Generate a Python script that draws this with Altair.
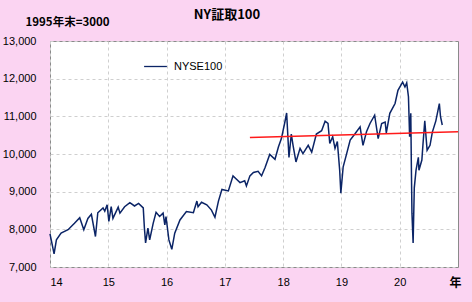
import altair as alt
import pandas as pd

# NYSE100 (1995年末=3000), x in years (14 = 2014)
years = [14.00, 14.07, 14.11, 14.19, 14.31, 14.42, 14.51, 14.58, 14.65, 14.71,
         14.78, 14.82, 14.91, 14.94, 14.98, 15.01, 15.05, 15.08, 15.17, 15.20,
         15.28, 15.37, 15.45, 15.52, 15.60, 15.62, 15.64, 15.68, 15.71, 15.77,
         15.82, 15.88, 15.94, 15.97, 15.99, 16.04, 16.09, 16.14, 16.23, 16.34,
         16.46, 16.52, 16.54, 16.60, 16.69, 16.77, 16.83, 16.89, 16.95, 17.06,
         17.14, 17.20, 17.26, 17.34, 17.37, 17.43, 17.49, 17.57, 17.63, 17.69,
         17.77, 17.86, 17.92, 17.97, 18.03, 18.06, 18.10, 18.14, 18.17, 18.22,
         18.29, 18.34, 18.43, 18.49, 18.57, 18.66, 18.72, 18.77, 18.80, 18.85,
         18.89, 18.93, 18.97, 18.99, 19.03, 19.09, 19.15, 19.23, 19.32, 19.37,
         19.43, 19.49, 19.57, 19.63, 19.69, 19.75, 19.77, 19.83, 19.92, 19.97,
         20.05, 20.09, 20.12, 20.15, 20.17, 20.19, 20.20, 20.21, 20.23, 20.25,
         20.28, 20.32, 20.33, 20.38, 20.40, 20.43, 20.47, 20.52, 20.56, 20.62,
         20.68, 20.70, 20.73]
values = [7880, 7350, 7720, 7900, 7990, 8160, 8310, 7990, 8290, 8400,
          7810, 8440, 8570, 8480, 8650, 8210, 8600, 8290, 8590, 8430,
          8600, 8710, 8620, 8690, 8570, 8030, 7640, 8030, 7720, 8160,
          8450, 8340, 8430, 8120, 8340, 7720, 7470, 7900, 8250, 8470,
          8440, 8750, 8600, 8720, 8650, 8510, 8320, 8750, 9060, 9020,
          9420, 9330, 9240, 9290, 9150, 9420, 9510, 9540, 9420, 9640,
          9990, 9860, 10190, 10410, 10850, 11090, 9910, 10530, 10230, 9790,
          10150, 10010, 10230, 10050, 10530, 10620, 10870, 10810, 10280, 10460,
          10150, 10330, 9570, 8960, 9660, 10010, 10370, 10530, 10720, 10230,
          10590, 10810, 11030, 10410, 10810, 10850, 10560, 11080, 11340, 11690,
          11910, 11780, 11890, 11520, 10460, 11080, 9660, 8430, 7640, 9100,
          9570, 9910, 9570, 9840, 10280, 10880, 10100, 10230, 10580, 10880,
          11340, 10990, 10770]

trend_years = [17.43, 21.0]
trend_values = [10440, 10590]

x_ticks = [14, 15, 16, 17, 18, 19, 20]
y_ticks = [7000, 8000, 9000, 10000, 11000, 12000, 13000]

title_text = ["NY証取100"]

df = pd.DataFrame({"year": years, "value": values, "series": "NYSE100"})
tr = pd.DataFrame({"year": trend_years, "value": trend_values})
tt = pd.DataFrame({"t": title_text})

LATIN = "Liberation Sans"
CJK = "Noto Sans CJK JP"

x_enc = alt.X("year:Q",
              scale=alt.Scale(domain=[14, 21], nice=False, zero=False),
              axis=alt.Axis(values=x_ticks, format="d", title="年",
                            titleAngle=0, titleX=405, titleY=15,
                            titleAlign="center", titleBaseline="middle",
                            titleFont=CJK, titleFontSize=12, titleFontWeight="bold",
                            titleColor="#000000", labelOverlap=False,
                            labelFont=LATIN, labelFontSize=11, labelColor="#000000",
                            labelPadding=9, ticks=False, domain=False,
                            grid=True, gridColor="#CFCFCF", gridDash=[3, 3],
                            gridWidth=1))
y_enc = alt.Y("value:Q",
              scale=alt.Scale(domain=[7000, 13000], nice=False, zero=False),
              axis=alt.Axis(values=y_ticks, format=",.0f", title="1995年末=3000",
                            titleAngle=0, titleX=-25, titleY=-19,
                            titleAlign="left", titleBaseline="middle",
                            titleFont=CJK, titleFontSize=11.5, titleFontWeight="bold",
                            titleColor="#000000", labelOverlap=False,
                            labelFont=LATIN, labelFontSize=11, labelColor="#000000",
                            labelPadding=14, ticks=False, domain=False,
                            grid=True, gridColor="#CFCFCF", gridDash=[3, 3],
                            gridWidth=1))

line = alt.Chart(df).mark_line(strokeWidth=1.5, interpolate="linear").encode(
    x=x_enc,
    y=y_enc,
    color=alt.Color("series:N",
                    scale=alt.Scale(domain=["NYSE100"], range=["#0B2466"]),
                    legend=alt.Legend(title=None, orient="none", legendX=93,
                                      legendY=13, symbolType="stroke",
                                      symbolSize=520, symbolStrokeWidth=1.3,
                                      labelFont=LATIN, labelFontSize=11,
                                      labelColor="#000000", labelOffset=6)),
)

trend = alt.Chart(tr).mark_line(color="#FF1A1A", strokeWidth=1.4).encode(
    x=x_enc, y=y_enc
)

title = alt.Chart(tt).mark_text(font=CJK, fontSize=13, fontWeight="bold",
                                color="#000000", align="center",
                                baseline="middle").encode(
    x=alt.value(177), y=alt.value(-26), text="t:N"
)

chart = alt.layer(line, trend, title).properties(
    width=408,
    height=226,
    background="#FBD4F2",
    padding={"left": 50, "top": 41, "right": 14, "bottom": 35},
    autosize=alt.AutoSizeParams(type="none"),
).configure_view(
    fill="#FFFFFF", stroke="#8A8A8A", strokeWidth=1
)

chart.save("out.html", embed_options={"renderer": "svg", "actions": False})
